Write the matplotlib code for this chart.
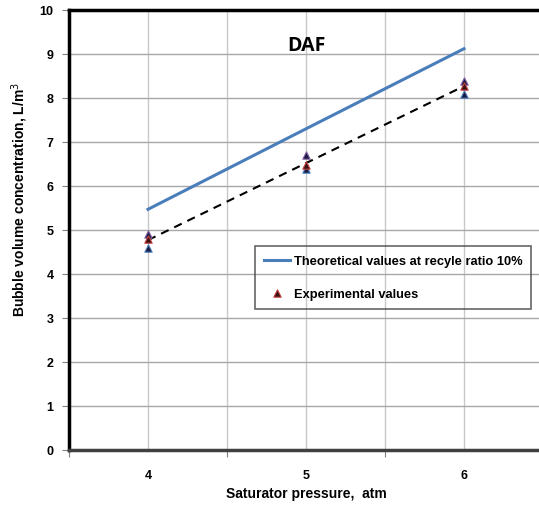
import numpy as np
import matplotlib
matplotlib.use("Agg")
import matplotlib.pyplot as plt

plt.rcParams['font.family'] = ['Liberation Sans', 'DejaVu Sans']

# data
pressure = [4, 5, 6]
theoretical = [5.47, 7.30, 9.12]
fit_line = [4.77, 6.52, 8.27]
exp_1 = [4.91, 6.70, 8.38]
exp_2 = [4.80, 6.48, 8.27]
exp_3 = [4.59, 6.39, 8.09]

fig = plt.figure(figsize=(5.39, 5.06), dpi=100)
ax = fig.add_axes([69 / 539, 55 / 506, 474 / 539, 440 / 506])

ax.set_xlim(3.5, 6.5)
ax.set_ylim(0, 10)

# grid
for x in [4, 4.5, 5, 5.5, 6]:
    ax.axvline(x, color='#c8c8c8', lw=1, zorder=0)
for y in range(1, 10):
    ax.axhline(y, color='#a8a8a8', lw=1, zorder=0)

ax.plot(pressure, theoretical, color='#4a7ebb', lw=2.2, zorder=3,
        label='Theoretical values at recyle ratio 10%')
ax.plot(pressure, fit_line, color='black', lw=1.5, ls=(0, (4, 3)), zorder=3)

ax.scatter(pressure, exp_1, marker='^', s=28, color='#1a1a40', edgecolors='#8060a0',
           linewidths=0.8, zorder=4)
ax.scatter(pressure, exp_3, marker='^', s=28, color='#1a1a40', edgecolors='#4a7ebb',
           linewidths=0.8, zorder=4)
ax.scatter(pressure, exp_2, marker='^', s=28, color='#3a1010', edgecolors='#c04040',
           linewidths=0.8, zorder=5, label='Experimental values')

# spines
for side in ['top', 'left']:
    ax.spines[side].set_linewidth(2.5)
    ax.spines[side].set_color('black')
ax.spines['bottom'].set_linewidth(2.5)
ax.spines['bottom'].set_color('#404040')
ax.spines['right'].set_visible(False)

ax.set_yticks(range(0, 11))
ax.set_xticks([3.5, 4.5, 5.5, 6.5])
ax.set_xticklabels([])
ax.set_xticks([4, 5, 6], minor=True)
ax.set_xticklabels(['4', '5', '6'], minor=True)
ax.tick_params(axis='x', which='minor', length=0, pad=14)
ax.tick_params(axis='x', which='major', length=5, color='#808080')
ax.tick_params(axis='y', length=5, color='#808080', pad=6)
for lab in ax.get_yticklabels() + ax.get_xticklabels(minor=True):
    lab.set_fontweight('bold')
    lab.set_fontsize(9)

ax.set_xlabel('Saturator pressure,  atm', fontsize=10, fontweight='bold', labelpad=3)
ax.set_ylabel('Bubble volume concentration, L/m$^3$', fontsize=10, fontweight='bold')
ax.yaxis.set_label_coords(-0.082, (451 - 200) / 440)

ax.text(5.0, 9.2, 'DAF', fontsize=14, fontweight='bold', ha='center', va='center',
        family=['Open Sans', 'DejaVu Sans'])

leg = ax.legend(loc='upper left', bbox_to_anchor=((255 - 69) / 474, (451 - 247) / 440),
                frameon=True, fancybox=False, edgecolor='#404040', facecolor='none',
                handlelength=2.0, handletextpad=0.3, borderpad=0.7, labelspacing=1.6,
                borderaxespad=0, prop={'weight': 'bold', 'size': 9.3})
leg.get_frame().set_linewidth(1.2)

fig.savefig('out.png', dpi=100)
